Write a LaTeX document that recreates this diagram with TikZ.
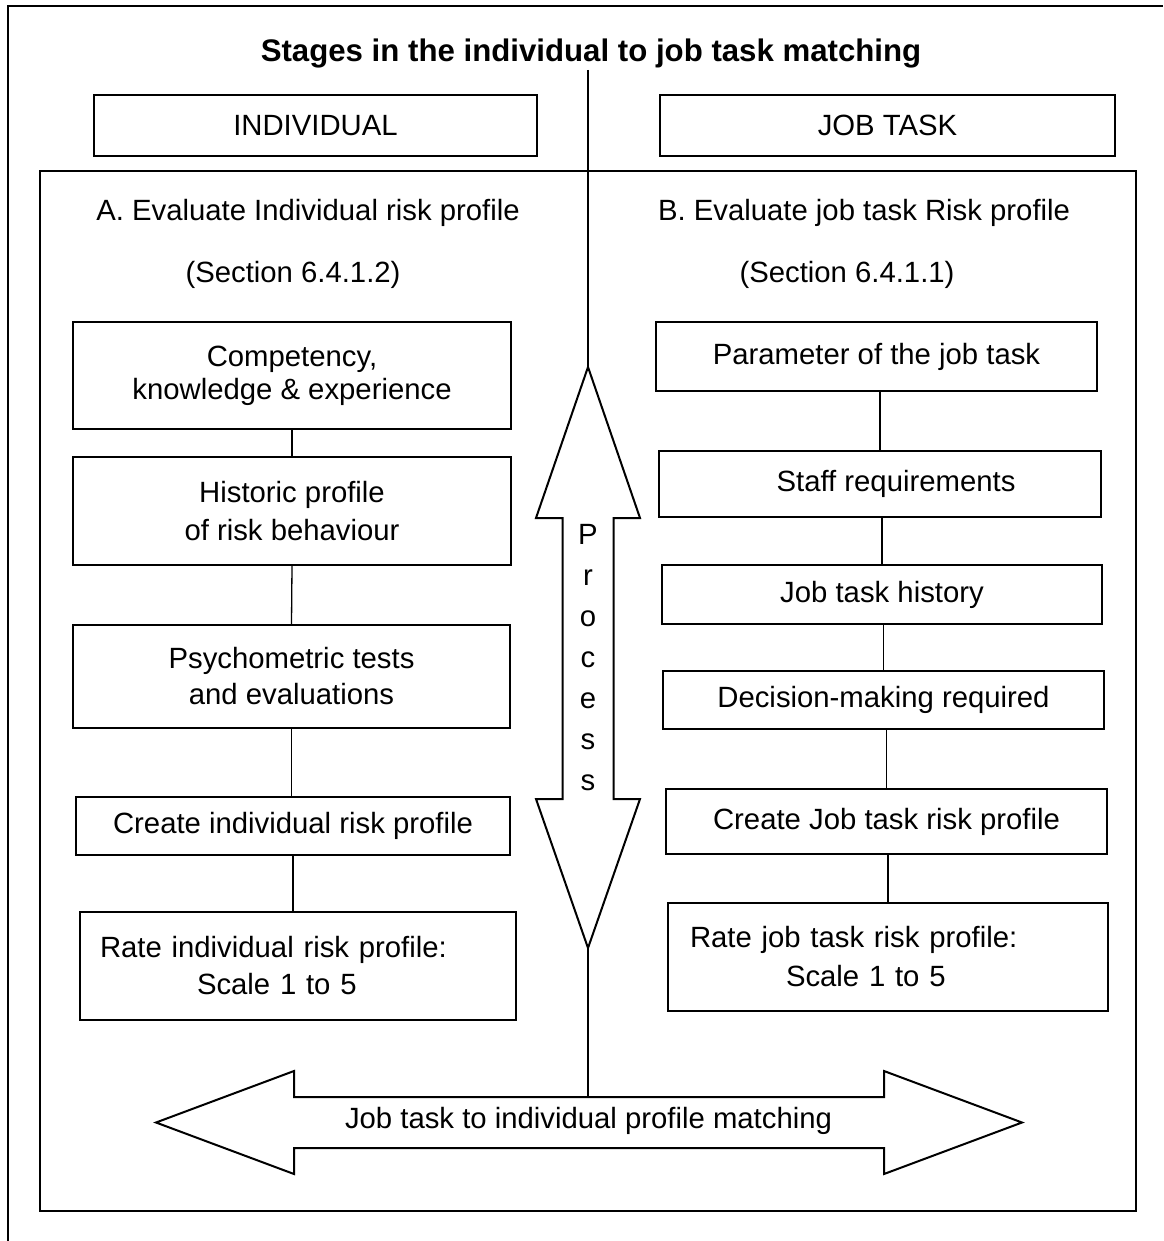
\documentclass[tikz,border=0pt]{standalone}
\usepackage{fontspec}
\setmainfont{Liberation Sans}
\begin{document}
\begin{tikzpicture}[x=1pt,y=-1pt,
  line width=2pt,
  txt/.style={font=\fontsize{29.3}{34}\selectfont, inner sep=0pt},
  box/.style={draw, line width=2pt, font=\fontsize{29.3}{34}\selectfont,
              align=center, inner sep=0pt},
  sz/.style 2 args={minimum width=#1, minimum height=#2},
  link/.style={line width=1.3pt},
  bigarrow/.style={draw, line width=2pt, line join=miter, fill=white},
]
\useasboundingbox (0,0) rectangle (1163,1241);

% page frame and inner frame
\draw (8,1241) -- (8,6) -- (1163,6);
\draw (40,171) rectangle (1136,1211);

% title
\node[txt, font=\fontsize{31.2}{36}\selectfont\bfseries] (title) at (591,54)
  {Stages in the individual to job task matching};

% central axis
\coordinate (ctop) at (588,70);
\coordinate (uptip) at (588,367);
\coordinate (dntip) at (588,948);
\coordinate (mtop) at (588,1097);
\draw[link] (ctop) -- (uptip);
\draw[link] (dntip) -- (mtop);

% column headers
\node[box, sz={443}{61}, fill=white] (hind) at (315.5,125.5) {INDIVIDUAL};
\node[box, sz={455}{61}, fill=white] (hjob) at (887.5,125.5) {JOB TASK};

% section headings
\node[txt] (secA)  at (308,213) {A. Evaluate Individual risk profile};
\node[txt] (secAr) at (293,275) {(Section 6.4.1.2)};
\node[txt] (secB)  at (864,213) {B. Evaluate job task Risk profile};
\node[txt] (secBr) at (847,275) {(Section 6.4.1.1)};

% individual column
\node[box, sz={438}{107}, font=\fontsize{29.3}{33}\selectfont] (l1) at (292,375.5)
  {Competency,\\knowledge \& experience};
\node[box, sz={438}{108}, font=\fontsize{29.3}{38}\selectfont] (l2) at (292,511)
  {Historic profile\\of risk behaviour};
\node[box, sz={437}{103}, font=\fontsize{29.3}{36}\selectfont] (l3) at (291.5,676.5)
  {Psychometric tests\\and evaluations};
\node[box, sz={434}{58}] (l4) at (293,826) {Create individual risk profile};
\node[box, sz={436}{108}, font=\fontsize{29.3}{37}\selectfont, align=left,
      text width=396pt, inner xsep=20pt] (l5) at (298,966)
  {Rate individual risk profile:\\\hspace*{97pt}Scale 1 to 5};

\draw[link] (l1.south) -- (l2.north);
\draw[link] (l2.south) -- (l3.north);
\draw[link] (l3.south) -- (l3.south |- l4.north);
\draw[link] (l4.south) -- (l4.south |- l5.north);

% job task column
\node[box, sz={441}{69}] (r1) at (876.5,356.5) {Parameter of the job task};
\node[box, sz={442}{66}] (r2) at (880,484) {\hspace*{32pt}Staff requirements};
\node[box, sz={440}{59}] (r3) at (882,594.5) {Job task history};
\node[box, sz={441}{58}] (r4) at (883.5,700) {Decision-making required};
\node[box, sz={441}{65}] (r5) at (886.5,821.5) {Create Job task risk profile};
\node[box, sz={440}{108}, font=\fontsize{29.3}{39}\selectfont, align=left,
      text width=396pt, inner xsep=22pt] (r6) at (888,957)
  {Rate job task risk profile:\\\hspace*{96pt}Scale 1 to 5};

\draw[link] (r1.south -| r2.north) -- (r2.north);
\draw[link] (r2.south -| r3.north) -- (r3.north);
\draw[link] (r3.south -| r4.north) -- (r4.north);
\draw[link] (r4.south -| r5.north) -- (r5.north);
\draw[link] (r5.south -| r6.north) -- (r6.north);

% vertical process arrow
\draw[bigarrow] (uptip) -- (640,518) -- (613.5,518) -- (613.5,799) -- (640,799)
  -- (dntip) -- (536,799) -- (562.5,799) -- (562.5,518) -- (536,518) -- cycle;
\node[txt, align=center, font=\fontsize{29.3}{41}\selectfont] (proc) at (588,658)
  {P\\r\\o\\c\\e\\s\\s};

% horizontal matching arrow
\draw[bigarrow] (156,1122.5) -- (294,1071) -- (294,1097) -- (mtop) -- (884,1097)
  -- (884,1071) -- (1022,1122.5) -- (884,1174) -- (884,1148) -- (294,1148)
  -- (294,1174) -- cycle;
\node[txt] (match) at (588.5,1121)
  {Job task to individual profile matching};

\end{tikzpicture}
\end{document}
